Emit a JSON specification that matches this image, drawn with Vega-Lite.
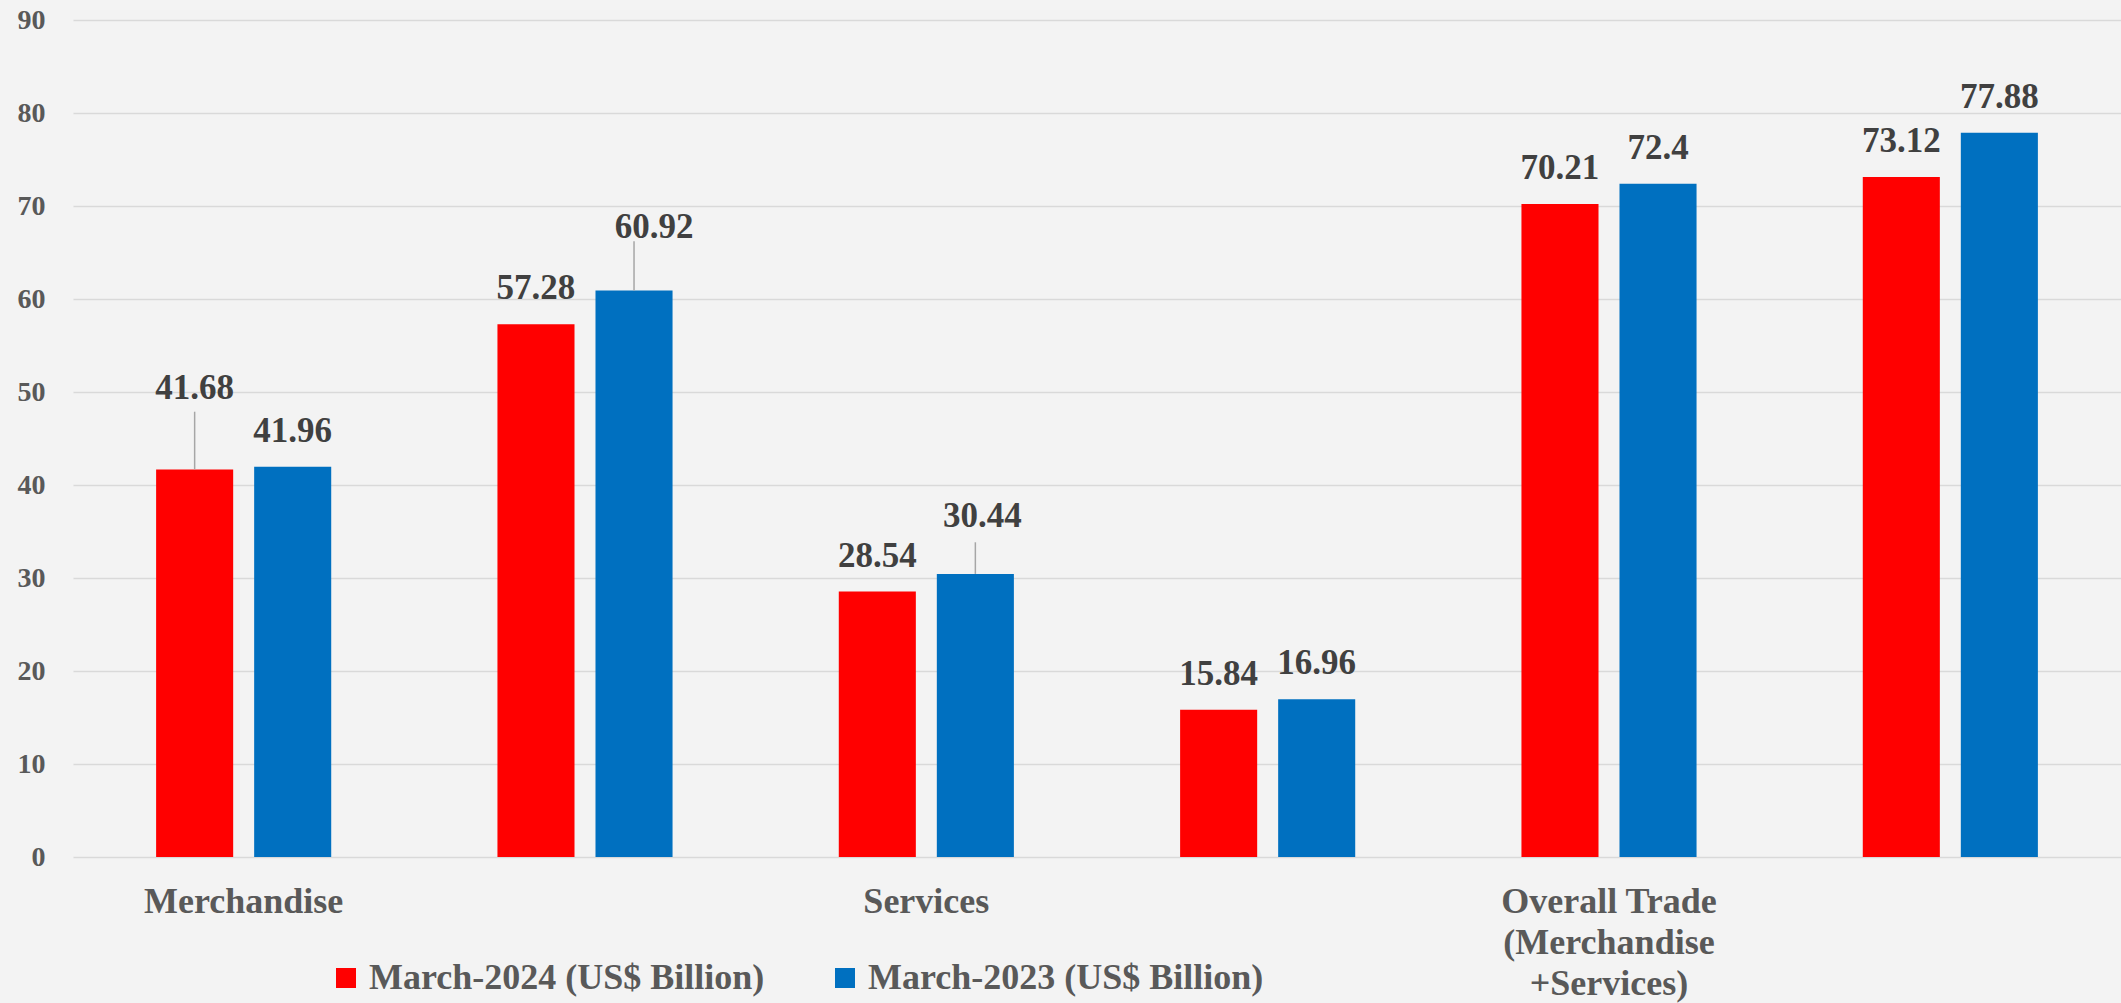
{
  "$schema": "https://vega.github.io/schema/vega-lite/v6.json",
  "width": 2048,
  "height": 837,
  "autosize": {"type": "none"},
  "padding": {"left": 73, "top": 20, "right": 0, "bottom": 146},
  "background": "#f3f3f3",
  "config": {"view": {"stroke": null}, "font": "Liberation Serif"},
  "data": {
    "values": [
      {"category": "Merchandise", "period": "March-2024 (US$ Billion)", "value": 41.68},
      {"category": "Merchandise", "period": "March-2023 (US$ Billion)", "value": 41.96},
      {"category": "Merchandise Imports", "period": "March-2024 (US$ Billion)", "value": 57.28},
      {"category": "Merchandise Imports", "period": "March-2023 (US$ Billion)", "value": 60.92},
      {"category": "Services", "period": "March-2024 (US$ Billion)", "value": 28.54},
      {"category": "Services", "period": "March-2023 (US$ Billion)", "value": 30.44},
      {"category": "Services Imports", "period": "March-2024 (US$ Billion)", "value": 15.84},
      {"category": "Services Imports", "period": "March-2023 (US$ Billion)", "value": 16.96},
      {"category": "Overall Trade (Merchandise +Services)", "period": "March-2024 (US$ Billion)", "value": 70.21},
      {"category": "Overall Trade (Merchandise +Services)", "period": "March-2023 (US$ Billion)", "value": 72.4},
      {"category": "Overall Trade Imports", "period": "March-2024 (US$ Billion)", "value": 73.12},
      {"category": "Overall Trade Imports", "period": "March-2023 (US$ Billion)", "value": 77.88}
    ]
  },
  "transform": [
    {"calculate": "datum.category + '|' + substring(datum.period, 6, 10)", "as": "key"},
    {"calculate": "datum.key == 'Merchandise|2024' ? 4.9 : datum.key == 'Merchandise Imports|2023' ? 3.0 : datum.key == 'Services|2023' ? 2.4 : 0", "as": "raise"},
    {"calculate": "datum.key == 'Merchandise|2024' ? 6.2 : datum.key == 'Merchandise Imports|2023' ? 5.3 : datum.key == 'Services|2023' ? 3.4 : 0", "as": "lead"},
    {"calculate": "datum.value + datum.raise", "as": "labelY"},
    {"calculate": "datum.value + datum.lead", "as": "leaderY"}
  ],
  "encoding": {
    "x": {
      "field": "category",
      "type": "nominal",
      "sort": null,
      "scale": {"paddingInner": 0.487, "paddingOuter": 0.2435},
      "axis": {
        "title": null,
        "domain": false,
        "ticks": false,
        "grid": false,
        "labelAngle": 0,
        "labelOverlap": false,
        "labelLimit": 0,
        "labelPadding": 27,
        "labelFontSize": 36,
        "labelFontWeight": "bold",
        "labelColor": "#595959",
        "labelLineHeight": 41,
        "labelExpr": "datum.value == 'Overall Trade (Merchandise +Services)' ? ['Overall Trade', '(Merchandise', '+Services)'] : (indexof(datum.value, 'Imports') >= 0 ? '' : datum.value)"
      }
    },
    "xOffset": {
      "field": "period",
      "type": "nominal",
      "sort": ["March-2024 (US$ Billion)", "March-2023 (US$ Billion)"],
      "scale": {"paddingInner": 0.214, "paddingOuter": 0}
    }
  },
  "layer": [
    {
      "mark": {"type": "bar"},
      "encoding": {
        "y": {
          "field": "value",
          "type": "quantitative",
          "scale": {"domain": [0, 90], "nice": false},
          "axis": {
            "title": null,
            "values": [0, 10, 20, 30, 40, 50, 60, 70, 80, 90],
            "domain": false,
            "ticks": false,
            "gridColor": "#d9d9d9",
            "gridWidth": 1.6,
            "labelPadding": 28,
            "labelFontSize": 28,
            "labelFontWeight": "bold",
            "labelColor": "#595959"
          }
        },
        "color": {
          "field": "period",
          "type": "nominal",
          "sort": ["March-2024 (US$ Billion)", "March-2023 (US$ Billion)"],
          "scale": {"range": ["#FF0000", "#0070C0"]},
          "legend": {
            "title": null,
            "orient": "none",
            "direction": "horizontal",
            "legendX": 255,
            "legendY": 940,
            "symbolType": "square",
            "symbolSize": 400,
            "symbolStrokeWidth": 0,
            "labelFontSize": 36,
            "labelFontWeight": "bold",
            "labelColor": "#595959",
            "labelOffset": 5,
            "labelLimit": 0,
            "columnPadding": 62
          }
        }
      }
    },
    {
      "transform": [{"filter": "datum.raise > 0"}],
      "mark": {"type": "rule", "color": "#a6a6a6", "strokeWidth": 1.5},
      "encoding": {
        "y": {"field": "value", "type": "quantitative"},
        "y2": {"field": "leaderY"}
      }
    },
    {
      "transform": [{"filter": "datum.key != 'Merchandise Imports|2023' && datum.key != 'Services|2023'"}],
      "mark": {"type": "text", "baseline": "alphabetic", "align": "center", "dy": -25, "fontSize": 35, "fontWeight": "bold", "color": "#404040"},
      "encoding": {
        "y": {"field": "labelY", "type": "quantitative"},
        "text": {"field": "value", "type": "quantitative"}
      }
    },
    {
      "transform": [{"filter": "datum.key == 'Merchandise Imports|2023'"}],
      "mark": {"type": "text", "baseline": "alphabetic", "align": "center", "dy": -25, "dx": 20, "fontSize": 35, "fontWeight": "bold", "color": "#404040"},
      "encoding": {
        "y": {"field": "labelY", "type": "quantitative"},
        "text": {"field": "value", "type": "quantitative"}
      }
    },
    {
      "transform": [{"filter": "datum.key == 'Services|2023'"}],
      "mark": {"type": "text", "baseline": "alphabetic", "align": "center", "dy": -25, "dx": 7, "fontSize": 35, "fontWeight": "bold", "color": "#404040"},
      "encoding": {
        "y": {"field": "labelY", "type": "quantitative"},
        "text": {"field": "value", "type": "quantitative"}
      }
    }
  ]
}
